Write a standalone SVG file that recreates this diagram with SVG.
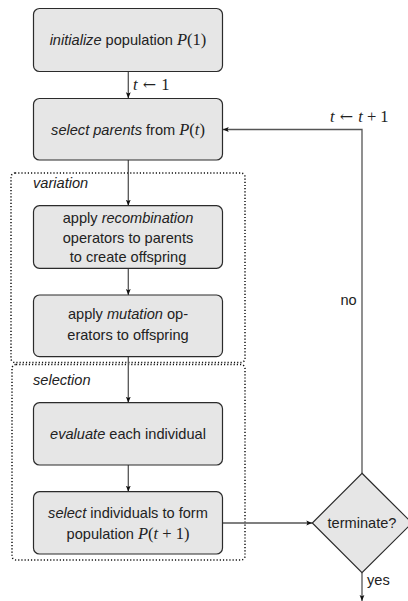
<svg xmlns="http://www.w3.org/2000/svg" width="408" height="601" viewBox="0 0 408 601">
<style>
.box{fill:#e6e6e6;stroke:#2b2b2b;stroke-width:1.2}
.grp{fill:none;stroke:#111;stroke-width:1.5;stroke-dasharray:1.2 2}
.t{font-family:"Liberation Sans",Arial,sans-serif;font-size:14.6px;fill:#222;text-anchor:middle}
.l{font-family:"Liberation Sans",Arial,sans-serif;font-size:14.6px;fill:#222}
.m{font-family:"Liberation Serif","Times New Roman",serif;font-style:italic;font-size:16.5px}
.n{font-family:"Liberation Serif","Times New Roman",serif;font-style:normal;font-size:16.5px}
.a{font-family:"DejaVu Serif",serif;font-style:normal;font-size:16px}
.c{fill:none;stroke:#555;stroke-width:1.3}
</style>
<defs>
<marker id="ah" viewBox="0 0 10 10" refX="10" refY="5" markerWidth="6" markerHeight="6" markerUnits="userSpaceOnUse" orient="auto">
<path d="M0,1 L10,5 L0,9 L2,5 Z" fill="#111"/>
</marker>
</defs>
<g id="group-variation">
<rect class="grp" x="11" y="173" width="234" height="189.5" rx="4"/>
<text class="l" x="33" y="188" font-style="italic">variation</text>
</g>
<g id="group-selection">
<rect class="grp" x="12" y="364.5" width="233" height="195.5" rx="4"/>
<text class="l" x="33" y="384.5" font-style="italic">selection</text>
</g>
<g id="connectors">
<line class="c" x1="128.3" y1="71.7" x2="128.3" y2="98.3" marker-end="url(#ah)"/>
<text class="l" x="133" y="90"><tspan class="m">t</tspan><tspan class="a"> ← </tspan><tspan class="n">1</tspan></text>
<line class="c" x1="128.3" y1="160" x2="128.3" y2="205.7" marker-end="url(#ah)"/>
<line class="c" x1="128.3" y1="268.3" x2="128.3" y2="295" marker-end="url(#ah)"/>
<line class="c" x1="128.3" y1="356.7" x2="128.3" y2="402.7" marker-end="url(#ah)"/>
<line class="c" x1="128.3" y1="465" x2="128.3" y2="491.7" marker-end="url(#ah)"/>
<line class="c" x1="222.7" y1="523" x2="312.3" y2="523" marker-end="url(#ah)"/>
<polyline class="c" points="362,473.3 362,129.5 222.7,129.5" marker-end="url(#ah)"/>
<text class="l" x="330" y="122"><tspan class="m">t</tspan><tspan class="a"> ← </tspan><tspan class="m">t</tspan><tspan class="n"> + 1</tspan></text>
<text class="l" x="340.5" y="304.5">no</text>
<line class="c" x1="362" y1="572.7" x2="362" y2="601" marker-end="url(#ah)"/>
<text class="l" x="367" y="584.5">yes</text>
</g>
<g id="node-init">
<rect class="box" x="33.5" y="8.5" width="189" height="63" rx="6"/>
<text class="t" x="128" y="45"><tspan font-style="italic">initialize</tspan> population <tspan class="m">P</tspan><tspan class="n">(1)</tspan></text>
</g>
<g id="node-select-parents">
<rect class="box" x="33.5" y="98.5" width="189" height="61.5" rx="6"/>
<text class="t" x="128" y="134.5"><tspan font-style="italic">select parents</tspan> from <tspan class="m">P</tspan><tspan class="n">(</tspan><tspan class="m">t</tspan><tspan class="n">)</tspan></text>
</g>
<g id="node-recombination">
<rect class="box" x="33.5" y="205.7" width="189" height="62.6" rx="6"/>
<text class="t" x="128" y="223">apply <tspan font-style="italic">recombination</tspan></text>
<text class="t" x="128" y="242.5">operators to parents</text>
<text class="t" x="128" y="262">to create offspring</text>
</g>
<g id="node-mutation">
<rect class="box" x="33.5" y="295" width="189" height="61.7" rx="6"/>
<text class="t" x="128" y="318.5">apply <tspan font-style="italic">mutation</tspan> op-</text>
<text class="t" x="128" y="340">erators to offspring</text>
</g>
<g id="node-evaluate">
<rect class="box" x="33.5" y="402.7" width="189" height="62.3" rx="6"/>
<text class="t" x="128" y="439"><tspan font-style="italic">evaluate</tspan> each individual</text>
</g>
<g id="node-select-individuals">
<rect class="box" x="33.5" y="491.7" width="189" height="62.3" rx="6"/>
<text class="t" x="128" y="517.5"><tspan font-style="italic">select</tspan> individuals to form</text>
<text class="t" x="128" y="538.5">population <tspan class="m">P</tspan><tspan class="n">(</tspan><tspan class="m">t</tspan><tspan class="n"> + 1)</tspan></text>
</g>
<g id="node-terminate">
<polygon class="box" points="362,473.3 412,523 362,572.7 312.3,523"/>
<text class="t" x="362" y="528">terminate?</text>
</g>
</svg>
